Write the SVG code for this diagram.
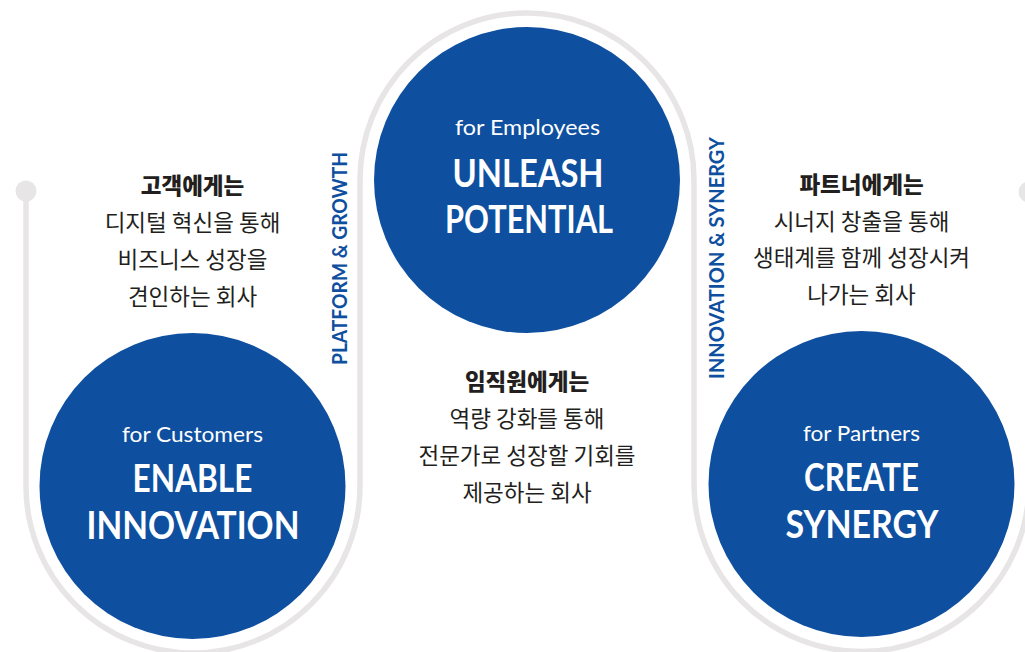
<svg xmlns="http://www.w3.org/2000/svg" width="1025" height="652" viewBox="0 0 1025 652">
<style>
  .bg { fill: #ffffff; }
  .track { fill: none; stroke: #e7e5e6; stroke-width: 5.5; }
  .dot { fill: #e7e5e6; }
  .circle { fill: #0e4fa0; }
  .sub { font-family: "Lato", "Liberation Sans", sans-serif; font-weight: 400; font-size: 21px; fill: #ffffff; text-anchor: middle; }
  .head { font-family: "Lato", "Liberation Sans", sans-serif; font-weight: 700; font-size: 38.5px; fill: #ffffff; text-anchor: middle; }
  .vert { font-family: "Lato", "Liberation Sans", sans-serif; font-weight: 700; font-size: 21px; fill: #0e4fa0; text-anchor: middle; }
  .kh { font-family: "Noto Sans CJK KR", "Noto Sans", sans-serif; font-weight: 900; font-size: 22.5px; fill: #231f20; text-anchor: middle; }
  .kt { font-family: "Noto Sans CJK KR", "Noto Sans", sans-serif; font-weight: 400; font-size: 22.5px; fill: #231f20; text-anchor: middle; }
</style>
<rect class="bg" x="0" y="0" width="1025" height="652"/>
<g id="connectors">
  <path class="track" d="M 26 191 V 486 A 167 167 0 0 0 360 486 V 180 A 167 167 0 0 1 694 180 V 484 A 167.5 167.5 0 0 0 1029 484 V 192"/>
  <circle class="dot" cx="26" cy="191" r="10.5"/>
  <circle class="dot" cx="1029" cy="192" r="10.5"/>
</g>
<g id="label-platform">
  <text class="vert" transform="translate(347,258.5) rotate(-90)" x="0" y="0" textLength="213" lengthAdjust="spacingAndGlyphs">PLATFORM &amp; GROWTH</text>
</g>
<g id="label-innovation">
  <text class="vert" transform="translate(723.5,258) rotate(-90)" x="0" y="0" textLength="242" lengthAdjust="spacingAndGlyphs">INNOVATION &amp; SYNERGY</text>
</g>
<g id="node-customers">
  <circle class="circle" cx="192.5" cy="486" r="153"/>
  <text class="sub" x="192.5" y="442" textLength="141" lengthAdjust="spacingAndGlyphs">for Customers</text>
  <text class="head" x="192.5" y="492" textLength="120" lengthAdjust="spacingAndGlyphs">ENABLE</text>
  <text class="head" x="193" y="539" textLength="213" lengthAdjust="spacingAndGlyphs">INNOVATION</text>
</g>
<g id="text-customers">
  <text class="kh" x="192.5" y="194">고객에게는</text>
  <text class="kt" x="192.5" y="231">디지털 혁신을 통해</text>
  <text class="kt" x="192.5" y="268">비즈니스 성장을</text>
  <text class="kt" x="192.5" y="305">견인하는 회사</text>
</g>
<g id="node-employees">
  <circle class="circle" cx="527" cy="180" r="153"/>
  <text class="sub" x="527.5" y="135" textLength="145" lengthAdjust="spacingAndGlyphs">for Employees</text>
  <text class="head" x="528" y="187" textLength="151" lengthAdjust="spacingAndGlyphs">UNLEASH</text>
  <text class="head" x="529" y="233" textLength="168" lengthAdjust="spacingAndGlyphs">POTENTIAL</text>
</g>
<g id="text-employees">
  <text class="kh" x="527" y="390">임직원에게는</text>
  <text class="kt" x="527" y="427">역량 강화를 통해</text>
  <text class="kt" x="527" y="464">전문가로 성장할 기회를</text>
  <text class="kt" x="527" y="501">제공하는 회사</text>
</g>
<g id="node-partners">
  <circle class="circle" cx="861.5" cy="484" r="153"/>
  <text class="sub" x="861.5" y="441" textLength="117" lengthAdjust="spacingAndGlyphs">for Partners</text>
  <text class="head" x="861.5" y="491" textLength="115" lengthAdjust="spacingAndGlyphs">CREATE</text>
  <text class="head" x="862" y="538" textLength="153" lengthAdjust="spacingAndGlyphs">SYNERGY</text>
</g>
<g id="text-partners">
  <text class="kh" x="861.5" y="193">파트너에게는</text>
  <text class="kt" x="861.5" y="229.5">시너지 창출을 통해</text>
  <text class="kt" x="861.5" y="266">생태계를 함께 성장시켜</text>
  <text class="kt" x="861.5" y="302.5">나가는 회사</text>
</g>
</svg>
